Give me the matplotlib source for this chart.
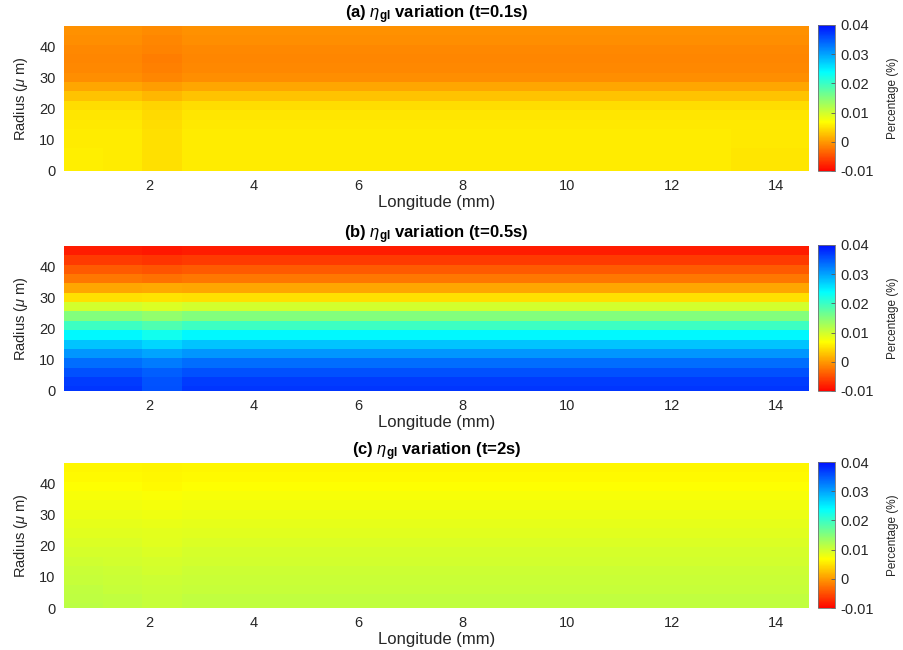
import numpy as np
import matplotlib
matplotlib.use("Agg")
import matplotlib.pyplot as plt
from matplotlib.colors import ListedColormap, Normalize

plt.rcParams['font.family'] = ['Liberation Sans', 'DejaVu Sans']
plt.rcParams['mathtext.fontset'] = 'custom'
plt.rcParams['mathtext.rm'] = 'Liberation Sans'
plt.rcParams['mathtext.it'] = 'Liberation Sans:italic'
plt.rcParams['mathtext.bf'] = 'Liberation Sans:bold'

# grid: longitude (mm) of each column, radius (um) of each row (bottom -> top)
longitude = [0.75, 1.5, 2.25, 3.0, 3.75, 4.5, 5.25, 6.0, 6.75, 7.5,
             8.25, 9.0, 9.75, 10.5, 11.25, 12.0, 12.75, 13.5, 14.25]
radius = [0, 3, 6, 9, 12, 15, 18, 21, 24, 27, 30, 33, 36, 39, 42, 45]

# (a) t=0.1s
a_main = [0.0055, 0.0055, 0.0055, 0.0055, 0.0055, 0.0054, 0.0052, 0.0046,
          0.0027, 0.0008, -0.0008, -0.0012, -0.0013, -0.0011, -0.0008, -0.0005]
a_strip = [0.0047, 0.0047, 0.0047, 0.0047, 0.0047, 0.0046, 0.0044, 0.0039,
           0.0021, 0.0003, -0.0013, -0.0017, -0.0018, -0.0016, -0.0013, -0.0010]
a_left = [0.0058, 0.0058, 0.0057, 0.0056, 0.0055, 0.0054, 0.0052, 0.0046,
          0.0027, 0.0008, -0.0008, -0.0012, -0.0013, -0.0011, -0.0008, -0.0005]
a_right = [0.0052, 0.0052, 0.0052, 0.0053, 0.0054, 0.0054, 0.0052, 0.0046,
           0.0027, 0.0008, -0.0008, -0.0012, -0.0013, -0.0011, -0.0008, -0.0005]

# (b) t=0.5s
b_main = [0.0373, 0.0370, 0.0356, 0.0336, 0.0310, 0.0277, 0.0242, 0.0198,
          0.0151, 0.0099, 0.0047, 0.0008, -0.0023, -0.0043, -0.0063, -0.0084]
b_strip = [0.0357, 0.0355, 0.0346, 0.0327, 0.0300, 0.0267, 0.0228, 0.0186,
           0.0141, 0.0093, 0.0050, 0.0011, -0.0026, -0.0047, -0.0067, -0.0087]

# (c) t=2s
c_main = [0.0110, 0.0109, 0.0107, 0.0105, 0.0102, 0.0099, 0.0096, 0.0092,
          0.0089, 0.0085, 0.0081, 0.0077, 0.0073, 0.0069, 0.0066, 0.0064]
c_strip = [0.0107, 0.0106, 0.0104, 0.0102, 0.0099, 0.0096, 0.0093, 0.0089,
           0.0086, 0.0082, 0.0078, 0.0074, 0.0070, 0.0066, 0.0063, 0.0061]
c_left = [0.0113, 0.0112, 0.0110, 0.0107, 0.0104, 0.0100, 0.0097, 0.0093,
          0.0089, 0.0085, 0.0081, 0.0077, 0.0073, 0.0069, 0.0066, 0.0064]

titles = [r'(a) $\eta_{\mathbf{gl}}$ variation (t=0.1s)',
          r'(b) $\eta_{\mathbf{gl}}$ variation (t=0.5s)',
          r'(c) $\eta_{\mathbf{gl}}$ variation (t=2s)']
cbar_ticks = [-0.01, 0, 0.01, 0.02, 0.03, 0.04]
cbar_labels = ['-0.01', '0', '0.01', '0.02', '0.03', '0.04']


def build(main, cols):
    grid = np.array([main] * len(longitude)).T
    for idx, prof in cols.items():
        grid[:, idx] = prof
    return grid


grids = [build(a_main, {0: a_left, 2: a_strip, 17: a_right, 18: a_right}),
         build(b_main, {2: b_strip}),
         build(c_main, {0: c_left, 2: c_strip})]

# MATLAB-style jet, run backwards from red to blue
j = np.linspace(0.87, 0.14, 256)
jet_rgb = np.stack([np.clip(1.5 - np.abs(4 * j - 3), 0, 1),
                    np.clip(1.5 - np.abs(4 * j - 2), 0, 1),
                    np.clip(1.5 - np.abs(4 * j - 1), 0, 1)], axis=1)
cmap = ListedColormap(jet_rgb)
norm = Normalize(vmin=-0.01, vmax=0.04)
txt = '#262626'

W, H = 904, 650
fig = plt.figure(figsize=(W / 100, H / 100), dpi=100)
bottoms = [171, 391, 608]

for grid, title, bot in zip(grids, titles, bottoms):
    ax = fig.add_axes([64 / W, 1 - bot / H, 745 / W, 145 / H])
    ax.pcolormesh(longitude, radius, grid, cmap=cmap, norm=norm, shading='nearest')
    ax.set_xlim(0.375, 14.625)
    ax.set_ylim(0, 46.5)
    ax.set_xticks([2, 4, 6, 8, 10, 12, 14])
    ax.set_yticks([0, 10, 20, 30, 40])
    for s in ax.spines.values():
        s.set_visible(False)
    ax.tick_params(length=0, labelsize=10.5, colors=txt, pad=6)
    ax.set_xlabel('Longitude (mm)', fontsize=12, color=txt, labelpad=1)
    ax.set_ylabel(r'Radius ($\mu$ m)', fontsize=10.5, color=txt, labelpad=7)
    ax.set_title(title, fontsize=12, fontweight='bold', color='black', pad=4)

    cax = fig.add_axes([818 / W, 1 - bot / H, 17 / W, 146 / H])
    cb = fig.colorbar(plt.cm.ScalarMappable(norm=norm, cmap=cmap), cax=cax)
    cb.set_ticks(cbar_ticks)
    cb.set_ticklabels(cbar_labels)
    cb.outline.set_linewidth(0.6)
    cb.outline.set_edgecolor('0.45')
    cax.tick_params(direction='in', length=3, width=0.6, color='0.35',
                    labelsize=10.5, labelcolor=txt, pad=4)
    cb.set_label('Percentage (%)', fontsize=8.5, color=txt, labelpad=9)

fig.savefig('out.png', dpi=100)
